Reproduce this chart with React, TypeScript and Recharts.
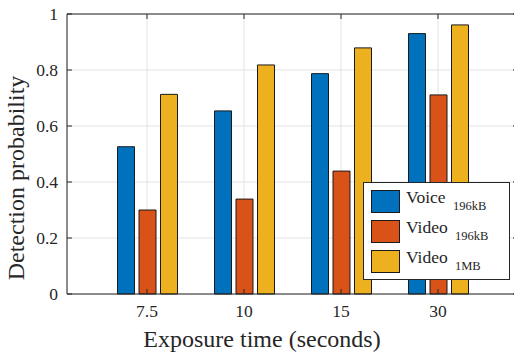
import React from 'react';
import { BarChart, Bar, XAxis, YAxis, CartesianGrid, ReferenceLine, Legend } from 'recharts';

const categories = ['7.5', '10', '15', '30'];
const voice196 = [0.526, 0.654, 0.787, 0.930];
const video196 = [0.300, 0.339, 0.439, 0.711];
const video1MB = [0.713, 0.818, 0.879, 0.961];
const yTicks = [0, 0.2, 0.4, 0.6, 0.8, 1];
const seriesKeys = ['voice196', 'video196', 'video1MB'];
const seriesNames = ['Voice', 'Video', 'Video'];
const seriesSubs = ['196kB', '196kB', '1MB'];
const colors = ['#0072BD', '#D95319', '#EDB120'];
const xTitle = 'Exposure time (seconds)';
const yTitle = 'Detection probability';

const data = categories.map((c, i) => ({
  cat: c,
  voice196: voice196[i],
  video196: video196[i],
  video1MB: video1MB[i],
}));

const FONT = '"Liberation Serif", "Times New Roman", serif';
const AX = '#262626';
const PLOT_LEFT = 67;
const PLOT_RIGHT = 518;
const PLOT_TOP = 14;
const PLOT_BOTTOM = 294;
const TICK_LEN = 5;

const XTick = (props: any) => {
  const { x, payload } = props;
  return (
    <g>
      <line x1={x} x2={x} y1={PLOT_BOTTOM} y2={PLOT_BOTTOM - TICK_LEN} stroke={AX} strokeWidth={1} />
      <line x1={x} x2={x} y1={PLOT_TOP} y2={PLOT_TOP + TICK_LEN} stroke={AX} strokeWidth={1} />
      <text x={x} y={317} textAnchor="middle" fontSize={17.5} fontFamily={FONT} fill={AX}>
        {payload.value}
      </text>
    </g>
  );
};

const YTick = (props: any) => {
  const { y, payload } = props;
  return (
    <g>
      <line x1={PLOT_LEFT} x2={PLOT_LEFT + TICK_LEN} y1={y} y2={y} stroke={AX} strokeWidth={1} />
      <line x1={PLOT_RIGHT - TICK_LEN} x2={PLOT_RIGHT} y1={y} y2={y} stroke={AX} strokeWidth={1} />
      <text x={58} y={y + 6} textAnchor="end" fontSize={17.5} fontFamily={FONT} fill={AX}>
        {String(payload.value)}
      </text>
    </g>
  );
};

const LegendBox = () => (
  <svg width={147} height={98} style={{ display: 'block' }}>
    <rect x={0.5} y={0.5} width={146} height={97} fill="#fff" stroke={AX} strokeWidth={1} />
    {seriesNames.map((n, i) => {
      const top = 8 + i * 30;
      return (
        <g key={i}>
          <rect x={8.5} y={top + 0.5} width={28} height={22} fill={colors[i]} stroke="#1a1a1a" strokeWidth={1} />
          <text x={43} y={top + 13} fontSize={17.5} fontFamily={FONT} fill={AX}>
            {n}
          </text>
          <text x={i === 0 ? 90 : 92} y={top + 20} fontSize={12.5} fontFamily={FONT} fill={AX}>
            {seriesSubs[i]}
          </text>
        </g>
      );
    })}
  </svg>
);

export default function App() {
  return (
    <div style={{ position: 'absolute', left: 0, top: 0, width: 514, height: 356, overflow: 'hidden', background: '#fff' }}>
      <BarChart
        width={520}
        height={356}
        data={data}
        margin={{ top: PLOT_TOP, right: 520 - PLOT_RIGHT, bottom: 0, left: 0 }}
        barSize={17}
        barGap={4.5}
      >
        <CartesianGrid stroke="#e3e3e3" strokeWidth={1} />
        <XAxis
          dataKey="cat"
          height={62}
          padding={{ left: 31.5, right: 31.5 }}
          axisLine={{ stroke: AX, strokeWidth: 1 }}
          tickLine={false}
          tick={<XTick />}
          interval={0}
          label={{
            content: () => (
              <text x={262} y={347} textAnchor="middle" fontSize={24} fontFamily={FONT} fill={AX}>
                {xTitle}
              </text>
            ),
          }}
        />
        <YAxis
          width={PLOT_LEFT}
          domain={[0, 1]}
          ticks={yTicks}
          axisLine={{ stroke: AX, strokeWidth: 1 }}
          tickLine={false}
          tick={<YTick />}
          interval={0}
          label={{
            content: () => (
              <text
                x={24}
                y={178}
                transform="rotate(-90, 24, 178)"
                textAnchor="middle"
                fontSize={24}
                fontFamily={FONT}
                fill={AX}
              >
                {yTitle}
              </text>
            ),
          }}
        />
        <ReferenceLine y={1} stroke={AX} strokeWidth={1} />
        {seriesKeys.map((k, i) => (
          <Bar key={k} dataKey={k} fill={colors[i]} stroke="#1a1a1a" strokeWidth={1} isAnimationActive={false} />
        ))}
        <Legend
          layout="vertical"
          align="center"
          verticalAlign="middle"
          content={() => <LegendBox />}
          wrapperStyle={{ position: 'absolute', left: 363, top: 182, width: 147, height: 98 }}
        />
      </BarChart>
    </div>
  );
}
